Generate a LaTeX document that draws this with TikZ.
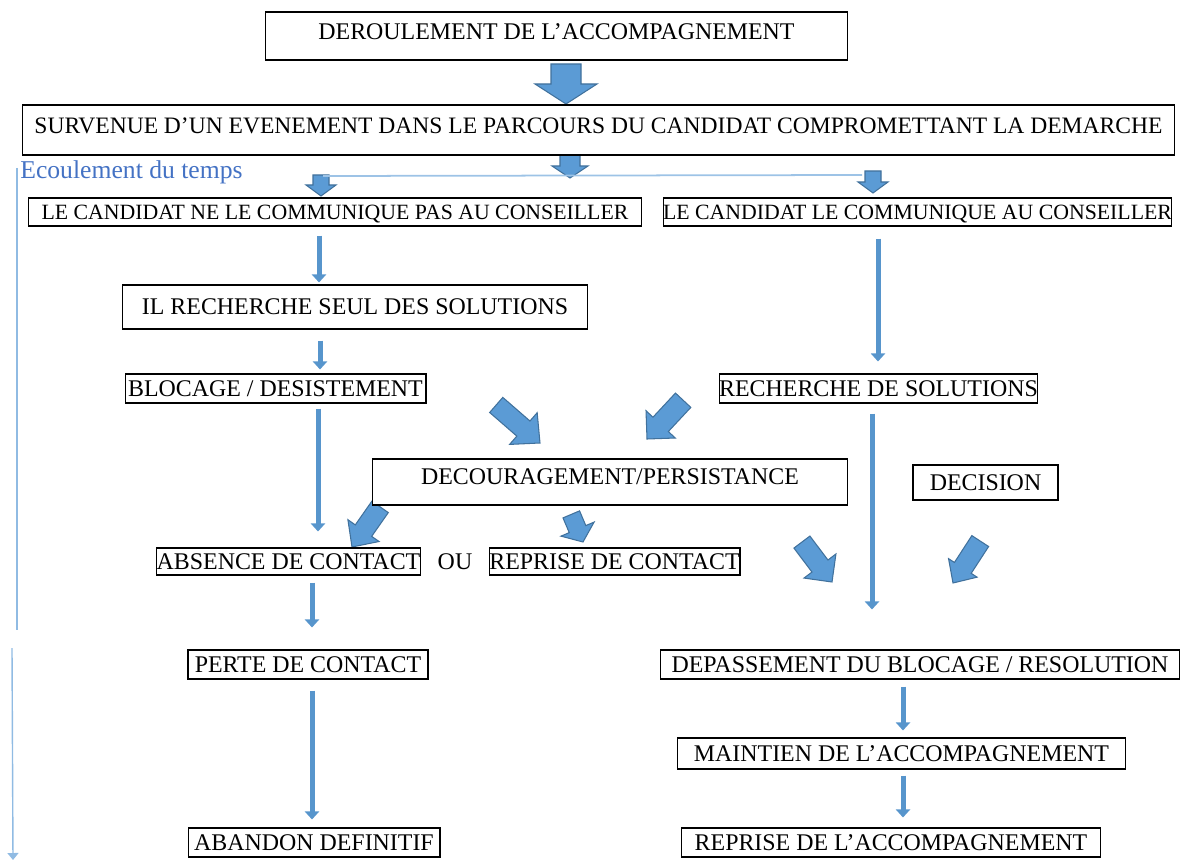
\documentclass[tikz,border=0pt]{standalone}
\usepackage{fontspec}
\setmainfont{Liberation Serif}
\usetikzlibrary{calc,arrows.meta}
\definecolor{OBlue}{HTML}{5B9BD5}
\definecolor{OEdge}{HTML}{41719C}
\definecolor{OLine}{HTML}{9DC3E6}
\definecolor{OText}{HTML}{4472C4}
\tikzset{
    box/.style = {draw, rectangle, fill=white, line width=0.6pt,
        inner sep=0pt, text height=2.0ex, text depth=0.1ex,
        font=\fontsize{13.6}{15}\selectfont},
    smallbox/.style = {box, font=\fontsize{12.4}{14}\selectfont},
    flow/.style = {draw=OBlue!85!OEdge, line width=0.1cm,
        -{Triangle[width=0.28cm,length=0.16cm]}},
    fatarrow/.style = {fill=OBlue, draw=OEdge, line width=0.6pt, line join=miter},
    timeline/.style = {draw=OLine!80!OBlue, line width=0.8pt}
}
% block arrow: tip, angle, length, shaft, head width, head length
\newcommand{\blockarrow}[6]{%
    \begin{scope}[shift={(#1)}, rotate=#2]
        \filldraw[fatarrow] (0,0) -- (-#6,{#5/2}) -- (-#6,{#4/2}) -- (-#3,{#4/2})
            -- (-#3,{-#4/2}) -- (-#6,{-#4/2}) -- (-#6,{-#5/2}) -- cycle;
    \end{scope}}
\begin{document}
\begin{tikzpicture}[x=0.02cm, y=-0.02cm]
    \useasboundingbox (0,0) rectangle (1183,861);

    % big arrows
    \blockarrow{566,104}{-90}{40}{30}{62}{20}
    \blockarrow{570,178}{-90}{24}{20}{36}{12}
    \blockarrow{321,196}{-90}{21}{16}{30}{11}
    \blockarrow{873,193}{-90}{22}{16}{30}{11}
    \blockarrow{540,443}{-41}{58}{20}{42}{22}
    \blockarrow{647,439}{-133}{53}{21}{40}{20}
    \blockarrow{352,547}{-125}{49}{20}{38}{20}
    \blockarrow{583,542}{-67}{30}{18}{36}{14}
    \blockarrow{832,582}{-53}{50}{20}{40}{20}
    \blockarrow{953,583}{-123}{50}{20}{34}{18}

    \coordinate (splitL) at (323,176);
    \coordinate (splitR) at (862,175);
    \draw[draw=OLine, line width=1pt] (splitL) -- (splitR);

    % boxes
    \node[box, minimum width=11.66cm, minimum height=0.96cm, text depth=1.1ex] (deroulement) at (556.5,36) {DEROULEMENT DE L'ACCOMPAGNEMENT};
    \node[box, minimum width=23.06cm, minimum height=1.0cm, text depth=1.1ex, font=\fontsize{13.4}{15}\selectfont] (survenue) at (598.5,130) {SURVENUE D'UN EVENEMENT DANS LE PARCOURS DU CANDIDAT COMPROMETTANT LA DEMARCHE};
    \node[smallbox, minimum width=12.28cm, minimum height=0.56cm] (nonComm) at (335,212) {LE CANDIDAT NE LE COMMUNIQUE PAS AU CONSEILLER};
    \node[smallbox, minimum width=10.18cm, minimum height=0.56cm] (comm) at (917.5,212) {LE CANDIDAT LE COMMUNIQUE AU CONSEILLER};
    \node[box, minimum width=9.32cm, minimum height=0.88cm] (seul) at (355,307) {IL RECHERCHE SEUL DES SOLUTIONS};
    \node[box, minimum width=6.02cm, minimum height=0.58cm] (blocage) at (275.5,388.5) {BLOCAGE / DESISTEMENT};
    \node[box, minimum width=6.34cm, minimum height=0.58cm] (recherche) at (878.5,388.5) {RECHERCHE DE SOLUTIONS};
    \node[box, minimum width=9.52cm, minimum height=0.92cm, text depth=1.5ex] (decourag) at (610,482) {DECOURAGEMENT/PERSISTANCE};
    \node[box, minimum width=2.9cm, minimum height=0.7cm] (decision) at (985.5,482.5) {DECISION};
    \node[box, minimum width=5.26cm, minimum height=0.54cm] (absence) at (288.5,561.5) {ABSENCE DE CONTACT};
    \node[box, draw=none, fill=none] (ou) at (455,561.5) {OU};
    \node[box, minimum width=5.02cm, minimum height=0.54cm] (reprise) at (614.5,561.5) {REPRISE DE CONTACT};
    \node[box, minimum width=4.8cm, minimum height=0.58cm] (perte) at (308,664.5) {PERTE DE CONTACT};
    \node[box, minimum width=10.4cm, minimum height=0.58cm] (depasse) at (920,664.5) {DEPASSEMENT DU BLOCAGE / RESOLUTION};
    \node[box, minimum width=8.98cm, minimum height=0.62cm] (maintien) at (901.5,753.5) {MAINTIEN DE L'ACCOMPAGNEMENT};
    \node[box, minimum width=5.04cm, minimum height=0.58cm] (abandon) at (314,842.5) {ABANDON DEFINITIF};
    \node[box, minimum width=8.4cm, minimum height=0.58cm] (repriseAcc) at (891,842.5) {REPRISE DE L'ACCOMPAGNEMENT};

    % time axis
    \node[anchor=west, inner sep=0pt, text=OText, font=\fontsize{14.6}{16}\selectfont] (temps) at (20,172) {Ecoulement du temps};
    \coordinate (t0) at (17,168);
    \coordinate (t1) at (17,630);
    \coordinate (t2) at (12,648);
    \coordinate (t3) at (13,860);
    \draw[timeline] (t0) -- (t1);
    \draw[timeline, -{Triangle[width=0.22cm,length=0.14cm]}] (t2) -- (t3);

    % thin arrows
    \draw[flow, shorten <=0.18cm, shorten >=0.04cm] (319,0 |- nonComm.south) -- (319,0 |- seul.north);
    \draw[flow, shorten <=0.22cm, shorten >=0.08cm] (320,0 |- seul.south) -- (320,0 |- blocage.north);
    \draw[flow, shorten <=0.24cm, shorten >=0.24cm] (878,0 |- comm.south) -- (878,0 |- recherche.north);
    \draw[flow, shorten <=0.1cm, shorten >=0.32cm] (318,0 |- blocage.south) -- (318,0 |- absence.north);
    \draw[flow, shorten <=0.2cm, shorten >=0.8cm] (872,0 |- recherche.south) -- (872,0 |- depasse.north);
    \draw[flow, shorten <=0.14cm, shorten >=0.44cm] (312,0 |- absence.south) -- (312,0 |- perte.north);
    \draw[flow, shorten <=0.22cm, shorten >=0.16cm] (312,0 |- perte.south) -- (312,0 |- abandon.north);
    \draw[flow, shorten <=0.14cm, shorten >=0.14cm] (903,0 |- depasse.south) -- (903,0 |- maintien.north);
    \draw[flow, shorten <=0.12cm, shorten >=0.2cm] (903,0 |- maintien.south) -- (903,0 |- repriseAcc.north);
\end{tikzpicture}
\end{document}
